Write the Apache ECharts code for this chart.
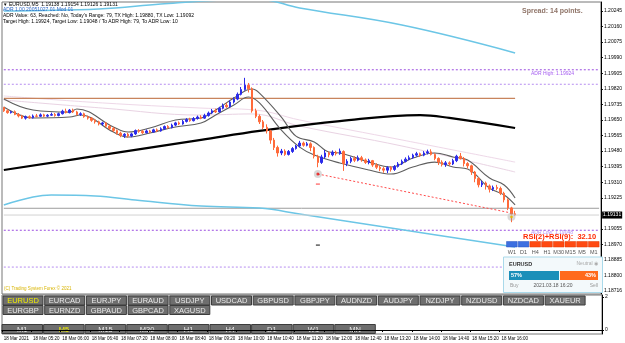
<!DOCTYPE html>
<html>
<head>
<meta charset="utf-8">
<script src="https://cdn.jsdelivr.net/npm/echarts@6.0.0/dist/echarts.min.js"></script>
<style>
html, body { margin: 0; padding: 0; background: #fff; }
#chart { width: 625px; height: 343px; }
</style>
</head>
<body>
<div id="chart"></div>
<script>
// M5 slots from 04:40, bars end at 16:20, rest is chart shift
var slotCount = 164;
var categories = [];
for (var m = 280; m < 280 + slotCount * 5; m += 5) {
    var hh = Math.floor(m / 60), mm = m % 60;
    categories.push((hh < 10 ? '0' : '') + hh + ':' + (mm < 10 ? '0' : '') + mm);
}

var priceTicks = [1.18716, 1.18800, 1.18885, 1.18970, 1.19055, 1.19225, 1.19310, 1.19395, 1.19480,
    1.19565, 1.19650, 1.19735, 1.19820, 1.19905, 1.19990, 1.20075, 1.20160, 1.20245];

var opens = [
    1.19718,1.19700,1.19690,1.19695,1.19680,1.19672,1.19660,1.19668,1.19662,1.19672,
    1.19670,1.19678,1.19671,1.19676,1.19680,1.19674,1.19684,1.19698,1.19690,1.19704,
    1.19694,1.19680,1.19684,1.19668,1.19660,1.19648,1.19640,1.19628,1.19634,1.19616,
    1.19604,1.19592,1.19578,1.19565,1.19572,1.19562,1.19574,1.19592,1.19588,1.19580,
    1.19590,1.19584,1.19596,1.19590,1.19602,1.19614,1.19608,1.19622,1.19634,1.19628,
    1.19642,1.19652,1.19646,1.19658,1.19666,1.19660,1.19674,1.19688,1.19700,1.19694,
    1.19714,1.19730,1.19722,1.19748,1.19764,1.19790,1.19816,1.19840,1.19820,1.19700,
    1.19670,1.19640,1.19610,1.19590,1.19540,1.19500,1.19470,1.19480,1.19462,1.19478,
    1.19494,1.19508,1.19524,1.19512,1.19520,1.19500,1.19452,1.19418,1.19448,1.19470,
    1.19460,1.19474,1.19466,1.19478,1.19412,1.19424,1.19440,1.19430,1.19444,1.19432,
    1.19418,1.19428,1.19404,1.19392,1.19384,1.19376,1.19390,1.19380,1.19396,1.19410,
    1.19424,1.19436,1.19444,1.19458,1.19466,1.19458,1.19470,1.19476,1.19462,1.19440,
    1.19420,1.19406,1.19416,1.19410,1.19428,1.19452,1.19440,1.19412,1.19400,1.19366,
    1.19330,1.19296,1.19306,1.19290,1.19272,1.19282,1.19276,1.19250,1.19214,1.19170,
    1.19138];
var closes = [
    1.19700,1.19690,1.19695,1.19680,1.19672,1.19660,1.19668,1.19662,1.19672,1.19670,
    1.19678,1.19671,1.19676,1.19680,1.19674,1.19684,1.19698,1.19690,1.19704,1.19694,
    1.19680,1.19684,1.19668,1.19660,1.19648,1.19640,1.19628,1.19634,1.19616,1.19604,
    1.19592,1.19578,1.19565,1.19572,1.19562,1.19574,1.19592,1.19588,1.19580,1.19590,
    1.19584,1.19596,1.19590,1.19602,1.19614,1.19608,1.19622,1.19634,1.19628,1.19642,
    1.19652,1.19646,1.19658,1.19666,1.19660,1.19674,1.19688,1.19700,1.19694,1.19714,
    1.19730,1.19722,1.19748,1.19764,1.19790,1.19816,1.19840,1.19820,1.19700,1.19670,
    1.19640,1.19610,1.19590,1.19540,1.19500,1.19470,1.19480,1.19462,1.19478,1.19494,
    1.19508,1.19524,1.19512,1.19520,1.19500,1.19452,1.19418,1.19448,1.19470,1.19460,
    1.19474,1.19466,1.19480,1.19412,1.19424,1.19440,1.19430,1.19444,1.19432,1.19418,
    1.19428,1.19404,1.19392,1.19384,1.19376,1.19390,1.19380,1.19396,1.19410,1.19424,
    1.19436,1.19444,1.19458,1.19466,1.19458,1.19470,1.19476,1.19462,1.19440,1.19420,
    1.19406,1.19416,1.19410,1.19428,1.19452,1.19440,1.19412,1.19400,1.19366,1.19330,
    1.19296,1.19306,1.19290,1.19272,1.19282,1.19276,1.19250,1.19214,1.19170,1.19136,
    1.19131];
var lows = [
    1.19694,1.19684,1.19685,1.19676,1.19664,1.19655,1.19652,1.19656,1.19658,1.19664,
    1.19666,1.19666,1.19665,1.19672,1.19668,1.19670,1.19680,1.19686,1.19686,1.19688,
    1.19674,1.19672,1.19662,1.19652,1.19640,1.19630,1.19620,1.19618,1.19610,1.19596,
    1.19584,1.19570,1.19556,1.19552,1.19553,1.19556,1.19568,1.19580,1.19574,1.19576,
    1.19578,1.19580,1.19584,1.19586,1.19596,1.19602,1.19604,1.19616,1.19622,1.19624,
    1.19636,1.19640,1.19642,1.19652,1.19654,1.19656,1.19668,1.19682,1.19688,1.19690,
    1.19708,1.19716,1.19718,1.19740,1.19758,1.19784,1.19810,1.19800,1.19690,1.19660,
    1.19628,1.19600,1.19576,1.19520,1.19486,1.19450,1.19458,1.19454,1.19456,1.19470,
    1.19488,1.19500,1.19504,1.19506,1.19480,1.19440,1.19392,1.19410,1.19440,1.19446,
    1.19452,1.19456,1.19460,1.19372,1.19398,1.19414,1.19420,1.19424,1.19422,1.19410,
    1.19408,1.19394,1.19382,1.19370,1.19362,1.19360,1.19368,1.19372,1.19390,1.19404,
    1.19418,1.19430,1.19438,1.19450,1.19448,1.19452,1.19462,1.19456,1.19430,1.19404,
    1.19396,1.19394,1.19400,1.19404,1.19420,1.19434,1.19396,1.19386,1.19350,1.19310,
    1.19282,1.19284,1.19270,1.19254,1.19262,1.19266,1.19240,1.19200,1.19158,1.19092,
    1.19126];
var highs = [
    1.19722,1.19708,1.19700,1.19702,1.19688,1.19678,1.19674,1.19675,1.19680,1.19683,
    1.19686,1.19684,1.19682,1.19690,1.19688,1.19690,1.19706,1.19712,1.19710,1.19712,
    1.19700,1.19692,1.19690,1.19674,1.19666,1.19656,1.19646,1.19640,1.19638,1.19622,
    1.19612,1.19598,1.19586,1.19578,1.19580,1.19580,1.19598,1.19600,1.19596,1.19598,
    1.19596,1.19602,1.19604,1.19610,1.19620,1.19622,1.19630,1.19640,1.19642,1.19650,
    1.19660,1.19662,1.19666,1.19674,1.19676,1.19684,1.19696,1.19710,1.19712,1.19722,
    1.19740,1.19744,1.19756,1.19774,1.19800,1.19830,1.19880,1.19852,1.19828,1.19712,
    1.19680,1.19650,1.19626,1.19596,1.19552,1.19510,1.19492,1.19490,1.19486,1.19502,
    1.19514,1.19536,1.19532,1.19530,1.19528,1.19506,1.19460,1.19460,1.19486,1.19478,
    1.19484,1.19482,1.19494,1.19484,1.19436,1.19450,1.19452,1.19456,1.19454,1.19440,
    1.19438,1.19432,1.19414,1.19400,1.19394,1.19398,1.19398,1.19404,1.19420,1.19434,
    1.19446,1.19456,1.19466,1.19476,1.19472,1.19480,1.19488,1.19490,1.19468,1.19446,
    1.19430,1.19426,1.19424,1.19438,1.19460,1.19470,1.19448,1.19420,1.19406,1.19372,
    1.19338,1.19318,1.19314,1.19298,1.19292,1.19296,1.19286,1.19258,1.19222,1.19176,
    1.19154];

// indicator lines, [bar index, price]
var cyanUpper = [[0,1.20245],[26,1.20256],[43,1.20283],[60,1.20305],[70,1.20308],[81,1.20261],[109,1.20168],[140,1.20016]];
var cyanLower = [[0,1.19186],[8,1.19229],[13,1.19240],[25,1.19235],[36,1.19213],[54,1.19180],[70,1.19169],[81,1.19137],[106,1.19060],[140,1.18956]];
var maSlow = [[0,1.19377],[27,1.19459],[54,1.19541],[70,1.19590],[92,1.19644],[114,1.19677],[122,1.19661],[140,1.19606]];
var faintA = [[0,1.19781],[27,1.19743],[54,1.19715],[69,1.19704],[81,1.19650],[109,1.19541],[140,1.19420]];
var faintB = [[0,1.19759],[27,1.19715],[54,1.19677],[68,1.19683],[81,1.19617],[109,1.19508],[140,1.19366]];
var bandUpper = [[0,1.19764],[8,1.19704],[18,1.19693],[20,1.19710],[30,1.19612],[34,1.19584],[40,1.19606],[47,1.19650],[54,1.19661],[58,1.19704],[63,1.19770],[68,1.19819],[70,1.19797],[76,1.19666],[80,1.19562],[85,1.19530],[89,1.19475],[92,1.19470],[100,1.19420],[106,1.19393],[112,1.19442],[118,1.19470],[123,1.19448],[127,1.19431],[133,1.19333],[137,1.19295],[140,1.19224]];
var bandLower = [[0,1.19721],[8,1.19661],[18,1.19666],[21,1.19677],[30,1.19584],[34,1.19557],[40,1.19579],[47,1.19612],[54,1.19633],[58,1.19677],[63,1.19732],[67,1.19775],[70,1.19743],[76,1.19595],[81,1.19502],[85,1.19459],[92,1.19415],[100,1.19377],[106,1.19355],[112,1.19393],[118,1.19420],[123,1.19393],[127,1.19382],[133,1.19278],[137,1.19240],[140,1.19186]];
var pivotLevel = [[0,1.19768],[140,1.19768]];
var trendLine = [[86,1.19355],[139,1.19142]];

var adrHigh = 1.19924, adrLow = 1.19048;
var txHighLine = 1.19845, lowerGuide = 1.18847;
var bid = 1.19131, askLine = 1.19168;

var pairs1 = ['EURUSD','EURCAD','EURJPY','EURAUD','USDJPY','USDCAD','GBPUSD','GBPJPY','AUDNZD','AUDJPY','NZDJPY','NZDUSD','NZDCAD','XAUEUR'];
var pairs2 = ['EURGBP','EURNZD','GBPAUD','GBPCAD','XAGUSD'];
var periods = ['M1','M5','M15','M30','H1','H4','D1','W1','MN'];
var strengthTf = ['W1','D1','H4','H1','M30','M15','M5','M1'];
var strengthUp = [true, true, false, false, false, false, false, false];
var buyPct = 57, sellPct = 43;

var FONT = 'Liberation Sans';
var LAST_SLOT = slotCount - 1;

var chart = echarts.init(document.getElementById('chart'));

function button(x, y, w, h, label, active) {
    return {
        type: 'group', x: x, y: y, z: 100,
        children: [
            { type: 'rect', shape: { x: 0, y: 0, width: w, height: h },
              style: { fill: '#6e6e6e', stroke: '#3c3c3c', lineWidth: 1 } },
            { type: 'text', x: w / 2, y: h / 2 + 0.5,
              style: { text: label, fill: active ? '#f0ee00' : '#e8e8e8', fontSize: 7.5,
                       fontFamily: FONT, align: 'center', verticalAlign: 'middle' } }
        ]
    };
}

var graphics = [];
pairs1.forEach(function(p, k) { graphics.push(button(3 + k * 41.7, 296, 40, 9, p, k === 0)); });
pairs2.forEach(function(p, k) { graphics.push(button(3 + k * 41.7, 305.5, 40, 9, p, false)); });
periods.forEach(function(p, k) { graphics.push(button(2 + k * 41.6, 324.5, 40.5, 9, p, p === 'M5')); });

function txt(x, y, s, size, color, extra) {
    var st = { text: s, fill: color, fontSize: size, fontFamily: FONT, verticalAlign: 'middle' };
    for (var k in extra) st[k] = extra[k];
    return { type: 'text', x: x, y: y, z: 100, style: st };
}

graphics.push(
    txt(3, 4.5, '\u25BC', 4.5, '#000'),
    txt(9, 4.5, 'EURUSD,M5  1.19138 1.19154 1.19126 1.19131', 5, '#000'),
    txt(3, 10, 'ADR 1.00 20051027 01 Mod 01', 5, '#2a63c4'),
    txt(3, 15.8, "ADR Value: 63, Reached: No, Today's Range: 79, TX High: 1.19880, TX Low: 1.19092", 5, '#000'),
    txt(3, 21.6, 'Target High: 1.19924, Target Low: 1.19048 / To ADR High: 79, To ADR Low: 10', 5, '#000'),
    txt(522, 11, 'Spread: 14 points.', 7, '#8f7468', { fontWeight: 'bold' }),
    txt(531, 74, 'ADR High: 1.19924', 5, '#a55cf0'),
    txt(531, 233, 'ADR Low: 1.19048', 5, '#b592f2'),
    txt(523, 236.5, 'RSI(2)+RSI(9):  32.10', 7.5, '#ff2a00', { fontWeight: 'bold' }),
    txt(4, 289, '(C) Trading System Forex \u00A9 2021', 4.5, '#d8b400')
);

strengthTf.forEach(function(tf, k) {
    var x = 506.5 + k * 11.7;
    graphics.push({ type: 'rect', z: 100, shape: { x: x, y: 241.5, width: 10.7, height: 5.5 },
        style: { fill: strengthUp[k] ? '#3d6fe0' : '#ff4a12', stroke: strengthUp[k] ? '#2a55c0' : '#e03a00', lineWidth: 0.5 } });
    graphics.push(txt(x + 5.35, 252, tf, 5.5, '#555', { align: 'center' }));
});

graphics.push(
    { type: 'rect', z: 100, shape: { x: 503.5, y: 257, width: 99, height: 35.5 },
      style: { fill: '#f3f9fb', stroke: '#a9d9ea', lineWidth: 1 } },
    txt(509, 264, 'EURUSD', 5.5, '#333', { fontWeight: 'bold' }),
    txt(598, 264, 'Neutral \u25C9', 5, '#aaa', { align: 'right' }),
    { type: 'rect', z: 100, shape: { x: 509, y: 271, width: 50, height: 9 }, style: { fill: '#1b8fb9' } },
    { type: 'rect', z: 100, shape: { x: 560, y: 271, width: 38, height: 9 }, style: { fill: '#ff6a1c' } },
    txt(511, 275.5, buyPct + '%', 5.5, '#fff', { fontWeight: 'bold' }),
    txt(596, 275.5, sellPct + '%', 5.5, '#fff', { fontWeight: 'bold', align: 'right' }),
    txt(510, 286, 'Buy', 5, '#999'),
    txt(553, 286, '2021.03.18 16:20', 5, '#555', { align: 'center' }),
    txt(598, 286, 'Sell', 5, '#999', { align: 'right' })
);

function timeTick(idx) { return idx % 8 === 0 && idx <= 136; }

function smoothLine(name, data, color, width, extra) {
    var s = {
        name: name, type: 'line', data: data, xAxisIndex: 0, yAxisIndex: 0,
        smooth: 0.4, showSymbol: false, symbol: 'none', silent: true, z: 2,
        lineStyle: { color: color, width: width }
    };
    for (var k in extra) s[k] = extra[k];
    return s;
}

// full-width horizontal level, drawn across all slots of the category axis
function level(name, v, color, type, extra) {
    return smoothLine(name, [[0, v], [LAST_SLOT, v]], color, 1,
        Object.assign({ smooth: false, z: 1, lineStyle: { color: color, width: 1, type: type } }, extra || {}));
}

var candleData = opens.map(function(o, i) { return [o, closes[i], lows[i], highs[i]]; });

chart.setOption({
    animation: false,
    backgroundColor: '#fff',
    grid: [
        { left: 2, right: 23, top: 2, height: 292, show: true, borderColor: '#777', borderWidth: 1 },
        { left: 2, right: 23, top: 295, height: 39, show: true, borderColor: '#777', borderWidth: 1 }
    ],
    xAxis: [
        { type: 'category', gridIndex: 0, data: categories, boundaryGap: true,
          axisLine: { show: false }, axisTick: { show: false }, axisLabel: { show: false } },
        { type: 'category', gridIndex: 1, data: categories, boundaryGap: true,
          axisLine: { show: true, lineStyle: { color: '#000' } },
          axisTick: { show: true, interval: timeTick, length: 2, lineStyle: { color: '#000' } },
          axisLabel: { interval: timeTick, fontSize: 4.5, fontFamily: FONT, color: '#000', align: 'left', margin: 2,
              formatter: function(v, idx) { return idx === 0 ? '18 Mar 2021' : '18 Mar ' + v; } } }
    ],
    yAxis: [
        { type: 'value', gridIndex: 0, position: 'right', min: 1.18700, max: 1.20294,
          splitLine: { show: false },
          axisLine: { show: true, lineStyle: { color: '#000' } },
          axisTick: { show: true, length: 2, customValues: priceTicks, lineStyle: { color: '#000' } },
          axisLabel: { customValues: priceTicks, fontSize: 5, fontFamily: FONT, color: '#000', margin: 3,
              formatter: function(v) { return v.toFixed(5); } } },
        { type: 'value', gridIndex: 1, position: 'right', min: -0.24, max: 2.12,
          splitLine: { show: false },
          axisLine: { show: true, lineStyle: { color: '#000' } },
          axisTick: { show: true, length: 2, customValues: [0, 2], lineStyle: { color: '#000' } },
          axisLabel: { customValues: [0, 2], fontSize: 5, fontFamily: FONT, color: '#000', margin: 3 } }
    ],
    series: [
        level('adrHigh', adrHigh, '#9b4de0', [2, 2]),
        level('txHigh', txHighLine, '#b58cf0', [2, 2]),
        level('adrLow', adrLow, '#9b4de0', [2, 2]),
        level('lowerGuide', lowerGuide, '#b58cf0', [2, 2]),
        level('ask', askLine, '#9d9d9d', 'solid'),
        level('bid', bid, '#d2d2d2', 'solid', {
            z: 6,
            endLabel: { show: true, distance: 3, formatter: bid.toFixed(5),
                backgroundColor: '#000', color: '#fff', fontSize: 5, fontFamily: FONT, padding: [1, 1, 1, 1] }
        }),
        smoothLine('faintA', faintA, '#eed8e8', 1),
        smoothLine('faintB', faintB, '#e9d3e3', 1),
        smoothLine('cyanUpper', cyanUpper, '#6cc6e6', 1.5),
        smoothLine('cyanLower', cyanLower, '#6cc6e6', 1.5),
        smoothLine('maSlow', maSlow, '#000', 2.2),
        smoothLine('pivot', pivotLevel, '#c8845c', 1.2, { smooth: false }),
        smoothLine('bandUpper', bandUpper, '#5e5e5e', 1.1),
        smoothLine('bandLower', bandLower, '#5e5e5e', 1.1),
        smoothLine('trend', trendLine, '#ff4a4a', 1, { smooth: false, lineStyle: { color: '#ff4a4a', width: 1, type: [2, 2] } }),
        {
            name: 'EURUSD', type: 'candlestick', data: candleData, xAxisIndex: 0, yAxisIndex: 0,
            barWidth: 2, z: 3, silent: true,
            itemStyle: { color: '#2b2bea', color0: '#ff6a3a', borderColor: '#2b2bea', borderColor0: '#ff6a3a', borderWidth: 1 }
        },
        {
            name: 'halo', type: 'scatter', xAxisIndex: 0, yAxisIndex: 0, silent: true, z: 4,
            data: [[86, 1.19355], [139, 1.19122]], symbolSize: 8,
            itemStyle: { color: 'rgba(150,150,150,0.45)' }
        },
        {
            name: 'signals', type: 'scatter', xAxisIndex: 0, yAxisIndex: 0, silent: true, z: 5,
            data: [
                { value: [86, 1.19355], itemStyle: { color: '#ee1111' }, symbolSize: 3 },
                { value: [139, 1.19122], itemStyle: { color: '#e8c000' }, symbolSize: 3 },
                { value: [86, 1.19300], itemStyle: { color: '#ff3030' }, symbol: 'rect', symbolSize: [4, 1.2] },
                { value: [86, 1.18967], itemStyle: { color: '#000' }, symbol: 'rect', symbolSize: [4, 1.2] }
            ]
        },
        { name: 'sub', type: 'line', data: [], xAxisIndex: 1, yAxisIndex: 1 }
    ],
    graphic: graphics
});
</script>
</body>
</html>
